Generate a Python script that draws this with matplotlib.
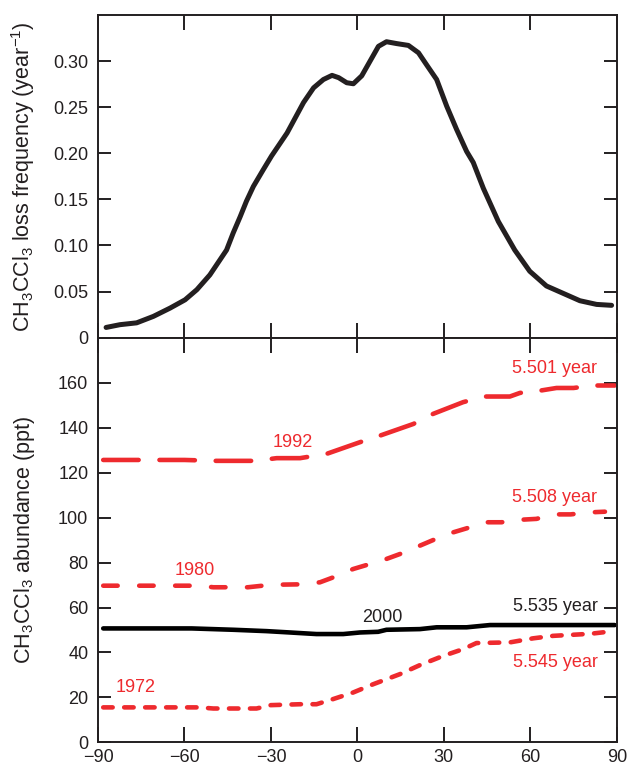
import matplotlib
matplotlib.use('Agg')
import matplotlib.pyplot as plt

plt.rcParams['font.family'] = ['Liberation Sans', 'DejaVu Sans']
plt.rcParams['font.size'] = 13
plt.rcParams['mathtext.fontset'] = 'custom'
plt.rcParams['mathtext.rm'] = 'Liberation Sans'
plt.rcParams['mathtext.it'] = 'Liberation Sans:italic'
plt.rcParams['mathtext.bf'] = 'Liberation Sans:bold'
plt.rcParams['axes.unicode_minus'] = True
plt.rcParams['lines.scale_dashes'] = False

RED = '#ee2a2e'
INK = '#231f20'

# top panel: loss frequency vs latitude
loss_lat = [-87.2, -82.4, -76.6, -70.8, -65, -59.8, -55.7, -51.2, -45.4, -43.1,
            -40.7, -38.5, -36.1, -32.7, -29.8, -24.4, -18.7, -15.2, -11.8, -8.8,
            -6.5, -3.7, -1.4, 1.5, 4.4, 7.3, 10.1, 13.6, 17.7, 21.2,
            24.0, 27.5, 31.0, 34.4, 37.9, 40.2, 43.7, 48.9, 54.6, 59.8,
            65.6, 71.4, 77.2, 83.0, 88.2]
loss_freq = [0.011, 0.014, 0.016, 0.023, 0.032, 0.041, 0.052, 0.068, 0.095, 0.1135,
             0.131, 0.148, 0.164, 0.182, 0.197, 0.222, 0.255, 0.271, 0.280, 0.2845,
             0.282, 0.2765, 0.2754, 0.284, 0.300, 0.316, 0.321, 0.319, 0.317, 0.309,
             0.296, 0.280, 0.251, 0.226, 0.202, 0.190, 0.162, 0.126, 0.095, 0.072,
             0.056, 0.048, 0.040, 0.036, 0.035]

# bottom panel: abundance profiles
lat_1992 = [-88.2, -60, -49, -35.5, -28, -19.9, -10.7, 0.9, 7.8, 19.4, 26.3, 36.7,
            44.2, 52.9, 56.4, 63.3, 69.1, 75, 81.8, 89.3]
ppt_1992 = [125.6, 125.6, 125.2, 125.2, 126.4, 126.4, 128.3, 133.5, 136.4, 141.6,
            146.1, 151.3, 153.8, 153.8, 155.4, 156.4, 157.6, 157.6, 158.7, 158.7]

lat_1980 = [-88.2, -55, -50, -38, -30, -19.9, -13, -8.4, -1.5, 3.2, 10.1, 14.8,
            21.7, 26.3, 33.2, 37.9, 44.2, 50, 56.4, 62.1, 68.5, 74, 80.7, 85.9]
ppt_1980 = [69.7, 69.7, 69.0, 69.0, 70.1, 70.3, 71.2, 73.4, 77.1, 78.9, 81.6, 83.8,
            87.5, 90.0, 93.4, 95.2, 97.9, 97.9, 99.0, 99.4, 101.4, 101.4, 102.3, 102.6]

lat_2000 = [-88.2, -57.5, -43, -31.5, -23.4, -14.2, -4.9, 0.9, 7.2, 10.1, 21.7,
            27.5, 37.9, 46, 89.3]
ppt_2000 = [50.7, 50.7, 50.1, 49.5, 48.9, 48.2, 48.2, 48.9, 49.2, 50.1, 50.4,
            51.2, 51.2, 52.2, 52.2]

lat_1972 = [-88.2, -55, -50, -35, -30, -19.9, -14.2, -8.4, -1.5, 5.5, 14.8, 21.7,
            29.8, 36.7, 41.3, 52.9, 61, 67.9, 80.7, 88.2]
ppt_1972 = [15.6, 15.6, 15.1, 15.1, 16.6, 17.0, 17.0, 19.3, 22.2, 25.9, 30.4, 34.4,
            38.5, 41.5, 44.2, 44.5, 46.3, 47.4, 48.3, 49.4]

x_ticks = [-90, -60, -30, 0, 30, 60, 90]


def style_axis(ax):
    for s in ax.spines.values():
        s.set_linewidth(1.4)
        s.set_color(INK)
    ax.tick_params(direction='in', length=9.5, width=1.4, color=INK,
                   top=True, right=True, labelsize=13, labelcolor=INK)
    ax.tick_params(axis='x', length=11, pad=5)
    ax.tick_params(axis='y', pad=7)


fig = plt.figure(figsize=(6.3, 7.69), dpi=100)
ax1 = fig.add_axes([0.1556, 0.561, 0.979 - 0.1556, 0.9805 - 0.561])
ax2 = fig.add_axes([0.1556, 0.0345, 0.979 - 0.1556, 0.561 - 0.0345])

ax1.plot(loss_lat, loss_freq, color=INK, lw=3.6, solid_capstyle='round',
         solid_joinstyle='round')
ax1.set_xlim(-90, 90)
ax1.set_ylim(0, 0.35)
ax1.set_xticks(x_ticks)
ax1.set_xticklabels([])
ax1.set_yticks([0, 0.05, 0.10, 0.15, 0.20, 0.25, 0.30])
ax1.set_yticklabels(['0', '0.05', '0.10', '0.15', '0.20', '0.25', '0.30'])
ax1.set_ylabel('CH$_3$CCl$_3$ loss frequency (year$^{\u22121}$)', fontsize=15.5,
               color=INK)
style_axis(ax1)

ax2.plot(lat_1992, ppt_1992, color=RED, lw=3.3, dashes=(25.5, 15), dash_capstyle='round')
ax2.plot(lat_1980, ppt_1980, color=RED, lw=3.3, dashes=(10.4, 15.5), dash_capstyle='round')
ax2.plot(lat_1972, ppt_1972, color=RED, lw=3.3, dashes=(6.8, 8.3), dash_capstyle='round')
ax2.plot(lat_2000, ppt_2000, color='black', lw=3.3, solid_capstyle='round')

ax2.text(-22.5, 133.4, '1992', color=RED, ha='center', va='center', fontsize=13)
ax2.text(-56.4, 76.4, '1980', color=RED, ha='center', va='center', fontsize=13)
ax2.text(-76.8, 24.5, '1972', color=RED, ha='center', va='center', fontsize=13)
ax2.text(8.5, 55.6, '2000', color=INK, ha='center', va='center', fontsize=13)
ax2.text(83.3, 166.1, '5.501 year', color=RED, ha='right', va='center', fontsize=13)
ax2.text(83.3, 109.0, '5.508 year', color=RED, ha='right', va='center', fontsize=13)
ax2.text(83.3, 60.3, '5.535 year', color=INK, ha='right', va='center', fontsize=13)
ax2.text(83.3, 35.6, '5.545 year', color=RED, ha='right', va='center', fontsize=13)

ax2.set_xlim(-90, 90)
ax2.set_ylim(0, 180)
ax2.set_xticks(x_ticks)
ax2.set_xticklabels(['\u221290', '\u221260', '\u221230', '0', '30', '60', '90'])
ax2.set_yticks([0, 20, 40, 60, 80, 100, 120, 140, 160, 180])
ax2.set_yticklabels(['0', '20', '40', '60', '80', '100', '120', '140', '160', ''])
ax2.set_ylabel('CH$_3$CCl$_3$ abundance (ppt)', fontsize=15.5, color=INK)
style_axis(ax2)

ax1.yaxis.set_label_coords(-0.117, 0.5)
ax2.yaxis.set_label_coords(-0.117, 0.5)

fig.savefig('out.png', dpi=100)
